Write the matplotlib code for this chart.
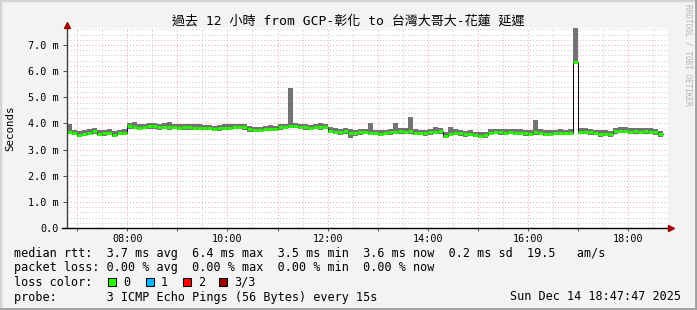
import matplotlib
matplotlib.use("Agg")
import matplotlib.pyplot as plt
import numpy as np
from matplotlib.patches import Rectangle
from matplotlib.lines import Line2D

plt.rcParams["font.family"] = ["DejaVu Sans Mono", "Noto Sans CJK TC"]

# ---- data (ms), 6-minute bins starting 06:48 ----
BIN_START_H = 6.8
BIN_H = 0.1
median = [3.67, 3.64, 3.57, 3.60, 3.64, 3.70, 3.61, 3.62, 3.65, 3.56, 3.63, 3.64,
          3.89, 3.88, 3.84, 3.86, 3.90, 3.89, 3.86, 3.87, 3.85, 3.86, 3.84, 3.86,
          3.85, 3.83, 3.84, 3.82, 3.83, 3.80, 3.81, 3.83, 3.84, 3.86, 3.87, 3.85,
          3.77, 3.76, 3.75, 3.79, 3.80, 3.79, 3.85, 3.86, 3.92, 3.90, 3.86, 3.85,
          3.82, 3.86, 3.85, 3.87, 3.72, 3.68, 3.66, 3.70, 3.64, 3.62, 3.66, 3.67,
          3.64, 3.63, 3.61, 3.63, 3.66, 3.69, 3.70, 3.68, 3.70, 3.65, 3.63, 3.62,
          3.66, 3.68, 3.70, 3.53, 3.60, 3.64, 3.62, 3.58, 3.60, 3.56, 3.53, 3.55,
          3.65, 3.67, 3.66, 3.64, 3.67, 3.65, 3.64, 3.62, 3.61, 3.66, 3.64, 3.60,
          3.61, 3.63, 3.64, 3.63, 3.65, 6.36, 3.67, 3.68, 3.66, 3.63, 3.60, 3.61,
          3.58, 3.70, 3.72, 3.71, 3.68, 3.70, 3.69, 3.70, 3.69, 3.66, 3.58]
smoke_hi = [3.96, 3.76, 3.70, 3.74, 3.78, 3.82, 3.76, 3.74, 3.78, 3.70, 3.76, 3.79,
            4.01, 4.04, 3.97, 3.99, 4.03, 4.00, 3.99, 4.00, 4.05, 3.98, 3.97, 3.99,
            3.97, 3.96, 3.96, 3.94, 3.95, 3.92, 3.94, 3.96, 3.97, 3.99, 3.98, 3.97,
            3.90, 3.88, 3.87, 3.91, 3.93, 3.91, 3.97, 3.99, 5.36, 4.03, 3.99, 3.97,
            3.94, 3.99, 4.01, 3.99, 3.86, 3.82, 3.79, 3.82, 3.77, 3.76, 3.79, 3.80,
            4.00, 3.76, 3.74, 3.76, 3.78, 4.02, 3.83, 3.81, 4.25, 3.78, 3.76, 3.75,
            3.79, 3.88, 3.84, 3.66, 3.88, 3.77, 3.75, 3.71, 3.73, 3.69, 3.66, 3.68,
            3.78, 3.80, 3.79, 3.77, 3.80, 3.78, 3.77, 3.75, 3.74, 4.14, 3.77, 3.73,
            3.74, 3.76, 3.77, 3.76, 3.78, 7.65, 3.81, 3.81, 3.79, 3.76, 3.73, 3.74,
            3.71, 3.84, 3.87, 3.86, 3.83, 3.84, 3.83, 3.84, 3.82, 3.79, 3.71]
smoke_lo = [3.58, 3.56, 3.48, 3.51, 3.55, 3.60, 3.52, 3.53, 3.56, 3.47, 3.54, 3.54,
            3.78, 3.78, 3.75, 3.77, 3.80, 3.78, 3.76, 3.78, 3.76, 3.77, 3.75, 3.76,
            3.76, 3.74, 3.75, 3.73, 3.74, 3.71, 3.72, 3.74, 3.75, 3.77, 3.78, 3.76,
            3.68, 3.67, 3.66, 3.70, 3.71, 3.70, 3.76, 3.77, 3.83, 3.81, 3.77, 3.75,
            3.73, 3.77, 3.76, 3.78, 3.63, 3.59, 3.57, 3.61, 3.45, 3.53, 3.57, 3.58,
            3.55, 3.54, 3.52, 3.54, 3.57, 3.60, 3.61, 3.59, 3.61, 3.56, 3.54, 3.53,
            3.57, 3.59, 3.61, 3.44, 3.51, 3.55, 3.53, 3.49, 3.51, 3.47, 3.44, 3.46,
            3.56, 3.58, 3.57, 3.55, 3.58, 3.56, 3.55, 3.53, 3.52, 3.57, 3.55, 3.51,
            3.52, 3.54, 3.55, 3.54, 3.56, 6.36, 3.58, 3.59, 3.57, 3.54, 3.47, 3.52,
            3.49, 3.61, 3.63, 3.62, 3.59, 3.61, 3.60, 3.61, 3.60, 3.57, 3.49]

T_START = 6 + 47 / 60 + 47 / 3600   # 06:47:47
SPAN_H = 12
Y_MAX = 7.65
y_ticks = [0, 1, 2, 3, 4, 5, 6, 7]
y_ticklabels = ["0.0", "1.0 m", "2.0 m", "3.0 m", "4.0 m", "5.0 m", "6.0 m", "7.0 m"]
x_labeled = [8, 10, 12, 14, 16, 18]
x_ticklabels = ["08:00", "10:00", "12:00", "14:00", "16:00", "18:00"]

title = "過去 12 小時 from GCP-彰化 to 台灣大哥大-花蓮 延遲"
legend_lines = [
    "median rtt:  3.7 ms avg  6.4 ms max  3.5 ms min  3.6 ms now  0.2 ms sd  19.5   am/s",
    "packet loss: 0.00 % avg  0.00 % max  0.00 % min  0.00 % now",
    "loss color:",
    "probe:       3 ICMP Echo Pings (56 Bytes) every 15s",
]
loss_labels = ["0", "1", "2", "3/3"]
loss_colors = ["#26ff00", "#00b8ff", "#ff0000", "#a00000"]
stamp = "Sun Dec 14 18:47:47 2025"

W, H = 697, 310
fig = plt.figure(figsize=(W / 100, H / 100), dpi=100, facecolor="#f3f3f3")


def fx(x):
    return x / W


def fy(y):
    return 1 - y / H


ax = fig.add_axes([fx(67), fy(228), 601 / W, 200 / H])
ax.set_facecolor("white")
ax.set_xlim(T_START, T_START + SPAN_H)
ax.set_ylim(0, Y_MAX)

# grid
for h in np.arange(7, 19, 1.0):
    ax.axvline(h, color="#f2aaaa", lw=0.75, ls=(0, (1, 2)), zorder=1)
for h in np.arange(7.5, 19, 1.0):
    ax.axvline(h, color="#cccccc", lw=0.75, ls=(0, (1, 2)), zorder=0.9)
for v in np.arange(0.2, Y_MAX, 0.2):
    if abs(v - round(v)) < 1e-6:
        ax.axhline(v, color="#f2aaaa", lw=0.75, ls=(0, (1, 2)), zorder=1)
    else:
        ax.axhline(v, color="#cccccc", lw=0.75, ls=(0, (1, 2)), zorder=0.9)

# smoke + median
n = len(median)
edges = BIN_START_H + BIN_H * np.arange(n + 1)
med = np.array(median)
hi = np.array(smoke_hi)
lo = np.array(smoke_lo)
ax.fill_between(edges, np.append(lo, lo[-1]), np.append(hi, hi[-1]), step="post",
                color="#737373", lw=0, zorder=2)
ax.step(edges, np.append(med, med[-1]), where="post", color="#111111", lw=0.75, zorder=3)
ax.hlines(med, edges[:-1], edges[1:], color=loss_colors[0], lw=2.0, zorder=4)

# axes / ticks
for s in ax.spines.values():
    s.set_visible(False)
ax.set_xticks(np.arange(7, 19, 1.0))
ax.set_xticklabels(["" if h not in x_labeled else x_ticklabels[x_labeled.index(h)]
                    for h in range(7, 19)])
ax.set_yticks(y_ticks)
ax.set_yticklabels(y_ticklabels)
ax.tick_params(axis="x", length=2.2, width=0.75, color="#555555", pad=2, labelsize=7.3)
ax.tick_params(axis="y", length=3, width=0.75, color="#555555", pad=3, labelsize=7.3)

axis_col = "#404040"
ax.add_line(Line2D([0, 0], [0, 1 + 3 / 200], transform=ax.transAxes, color=axis_col,
                   lw=1, clip_on=False, zorder=6))
ax.add_line(Line2D([-5 / 601, 1 + 3 / 601], [0, 0], transform=ax.transAxes, color="black",
                   lw=1, clip_on=False, zorder=6))
ax.plot([0], [1 + 3 / 200], marker="^", ms=4.5, color="#a00000", transform=ax.transAxes,
        clip_on=False, zorder=7)
ax.plot([1 + 3 / 601], [0], marker=">", ms=4.5, color="#a00000", transform=ax.transAxes,
        clip_on=False, zorder=7)

# texts
fig.text(0.5, fy(21), title, ha="center", va="center", fontsize=9.4, color="black")
fig.text(fx(10), fy(128), "Seconds", rotation=90, ha="center", va="center", fontsize=7.8)
fig.text(fx(688), fy(4), "RRDTOOL / TOBI OETIKER", rotation=270, ha="center", va="top",
         fontsize=5.6, color="#b4b4b4")

line_y = [254, 268, 282, 297]
for txt, y in zip(legend_lines, line_y):
    fig.text(fx(14), fy(y), txt, ha="left", va="center", fontsize=8.5)
fig.text(fx(681), fy(line_y[3]), stamp, ha="right", va="center", fontsize=8.5)

box_x = [108, 146, 183, 219]
for bx, lab, col in zip(box_x, loss_labels, loss_colors):
    fig.add_artist(Rectangle((fx(bx), fy(286)), 8 / W, 8 / H, transform=fig.transFigure,
                             facecolor=col, edgecolor="black", lw=0.75))
    fig.text(fx(bx + 15), fy(line_y[2]), lab, ha="left", va="center", fontsize=8.5)

# frame
fig.add_artist(Rectangle((0, 0), 1, 1, transform=fig.transFigure, fill=False,
                         edgecolor="#d4d4d4", lw=2.5))
fig.add_artist(Line2D([0, 1], [1 / H, 1 / H], transform=fig.transFigure, color="#9e9e9e", lw=2))
fig.add_artist(Line2D([1 - 1 / W, 1 - 1 / W], [0, 1], transform=fig.transFigure,
                      color="#9e9e9e", lw=2))

fig.savefig("out.png", dpi=100, facecolor=fig.get_facecolor())
